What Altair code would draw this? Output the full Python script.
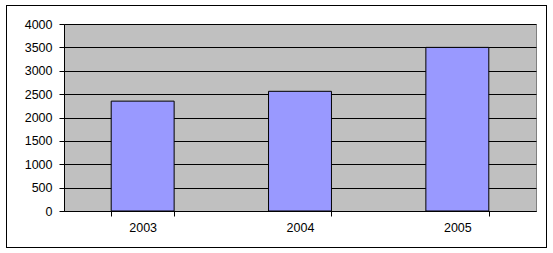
import altair as alt
import pandas as pd

years = ["2003", "2004", "2005"]
values = [2350, 2560, 3500]

df = pd.DataFrame({"year": years, "value": values})

W, H = 472, 187
L, T = 64, 24

bars = alt.Chart(df).mark_bar(
    color="#9999FF", stroke="black", strokeWidth=1
).encode(
    x=alt.X("year:N", sort=years, title=None,
            scale=alt.Scale(paddingInner=0.6, paddingOuter=0.3),
            axis=alt.Axis(labelAngle=0, tickBand="extent", domainColor="black",
                          tickColor="black", tickSize=5, labelPadding=5,
                          labelFont="Liberation Sans", labelFontSize=12.5,
                          labelColor="black", grid=False)),
    y=alt.Y("value:Q", title=None,
            scale=alt.Scale(domain=[0, 4000], nice=False),
            axis=alt.Axis(values=list(range(0, 4001, 500)), format="d", grid=True,
                          gridColor="black", gridWidth=1, domainColor="black",
                          tickColor="black", tickSize=5, labelPadding=7,
                          labelFont="Liberation Sans", labelFontSize=12.5,
                          labelColor="black")),
)

frame = alt.Chart(df).mark_rect(
    fill=None, stroke="black", strokeWidth=1
).encode(
    x=alt.value(6 - L + 0.5), x2=alt.value(546 - L + 0.5),
    y=alt.value(5 - T + 0.5), y2=alt.value(247 - T + 0.5),
)

chart = alt.layer(frame, bars).properties(
    width=W, height=H,
    autosize=alt.AutoSizeParams(type="none"),
    padding={"left": L, "top": T, "right": 553 - L - W, "bottom": 253 - T - H},
    background="white",
).configure_view(
    fill="#C0C0C0", stroke="#808080", strokeWidth=1
)

chart.save("out.html", embed_options={"renderer": "svg", "actions": False})
